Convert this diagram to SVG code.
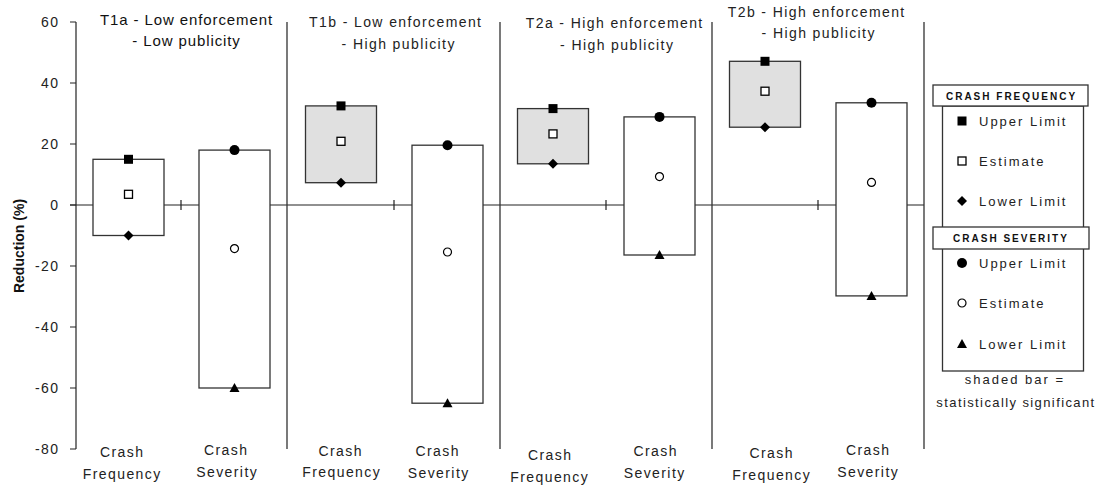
<svg xmlns="http://www.w3.org/2000/svg" xmlns:xlink="http://www.w3.org/1999/xlink" width="1100" height="487" viewBox="0 0 1100 487">
<style>
.ln{stroke:#222;stroke-width:1.2;fill:none}
.sep{stroke:#333;stroke-width:1.3;fill:none}
.bar{fill:#fff;stroke:#333;stroke-width:1.3}
.sh{fill:#e0e0e0;stroke:#333;stroke-width:1.3}
.tk{font-family:"Liberation Sans",Arial,sans-serif;font-size:14px;letter-spacing:1.4px;fill:#222}
.yl{font-family:"Liberation Sans",Arial,sans-serif;font-size:14px;letter-spacing:1.4px;fill:#222;text-anchor:end}
.t1{font-family:"Liberation Sans",Arial,sans-serif;font-size:15px;letter-spacing:0.9px;fill:#111;text-anchor:middle}
.tt{font-family:"Liberation Sans",Arial,sans-serif;font-size:14px;letter-spacing:1.4px;fill:#222;text-anchor:middle}
.lb{font-family:"Liberation Sans",Arial,sans-serif;font-size:14px;letter-spacing:1.4px;fill:#222;text-anchor:middle}
.hd{font-family:"Liberation Sans",Arial,sans-serif;font-size:10px;font-weight:bold;letter-spacing:2px;fill:#111;text-anchor:middle}
.li{font-family:"Liberation Sans",Arial,sans-serif;font-size:13px;letter-spacing:2px;fill:#222}
.nt{font-family:"Liberation Sans",Arial,sans-serif;font-size:13px;fill:#222;text-anchor:middle}
.ax{font-family:"Liberation Sans",Arial,sans-serif;font-size:14px;font-weight:bold;fill:#111;text-anchor:middle}
</style>
<defs>
<rect id="sqF" x="-4.5" y="-4.5" width="9" height="9" fill="#000"/>
<rect id="sqO" x="-4" y="-4" width="8" height="8" fill="#fff" stroke="#000" stroke-width="1.3"/>
<polygon id="dia" points="0,-5 5,0 0,5 -5,0" fill="#000"/>
<circle id="cF" r="5" fill="#000"/>
<circle id="cO" r="4" fill="#fff" stroke="#000" stroke-width="1.2"/>
<polygon id="tri" points="0,-5 5,4 -5,4" fill="#000"/>
</defs>
<rect width="1100" height="487" fill="#fff"/>

<g id="axes">
<line class="ln" x1="76" y1="22" x2="76" y2="449"/>
<path class="ln" d="M70 22H76M70 83H76M70 144H76M70 205H76M70 266H76M70 327H76M70 388H76M70 449H76"/>
<line class="ln" x1="70" y1="205" x2="924" y2="205"/>
<path class="ln" d="M181 200V210M394 200V210M606 200V210M818 200V210"/>
<path class="sep" d="M287 22V449M500 22V449M712 22V449M924 22V449"/>
<text class="yl" x="59.4" y="27">60</text>
<text class="yl" x="59.4" y="88">40</text>
<text class="yl" x="59.4" y="149">20</text>
<text class="yl" x="59.4" y="210">0</text>
<text class="yl" x="59.4" y="271">-20</text>
<text class="yl" x="59.4" y="332">-40</text>
<text class="yl" x="59.4" y="393">-60</text>
<text class="yl" x="59.4" y="454">-80</text>
<text class="ax" transform="translate(23.5,246) rotate(-90)">Reduction (%)</text>
</g>

<g id="connectors"></g>

<g id="t1a">
<text class="t1" x="186.5" y="25">T1a - Low enforcement</text>
<text class="t1" x="186.5" y="46">- Low publicity</text>
<rect class="bar" x="93" y="159.3" width="71" height="76.2"/>
<use href="#sqF" x="128.5" y="159.3"/>
<use href="#sqO" x="128.5" y="194.3"/>
<use href="#dia" x="128.5" y="235.5"/>
<rect class="bar" x="199" y="150.1" width="71" height="237.9"/>
<use href="#cF" x="234.5" y="150.1"/>
<use href="#cO" x="234.5" y="248.6"/>
<use href="#tri" x="234.5" y="388"/>
<text class="lb" x="122.2" y="457">Crash</text>
<text class="lb" x="122.2" y="479">Frequency</text>
<text class="lb" x="226.2" y="455">Crash</text>
<text class="lb" x="227.2" y="477">Severity</text>
</g>

<g id="t1b">
<text class="tt" x="395.7" y="27">T1b - Low enforcement</text>
<text class="tt" x="398.7" y="49">- High publicity</text>
<rect class="sh" x="305.5" y="105.9" width="71" height="76.8"/>
<use href="#sqF" x="341" y="105.9"/>
<use href="#sqO" x="341" y="141.3"/>
<use href="#dia" x="341" y="182.7"/>
<rect class="bar" x="412" y="145.2" width="71" height="258"/>
<use href="#cF" x="447.5" y="145.2"/>
<use href="#cO" x="447.5" y="252"/>
<use href="#tri" x="447.5" y="403.2"/>
<text class="lb" x="340.7" y="456">Crash</text>
<text class="lb" x="341.7" y="477">Frequency</text>
<text class="lb" x="437.7" y="456">Crash</text>
<text class="lb" x="438.7" y="478">Severity</text>
</g>

<g id="t2a">
<text class="tt" x="614.7" y="28">T2a - High enforcement</text>
<text class="tt" x="617.2" y="50">- High publicity</text>
<rect class="sh" x="517.5" y="108.6" width="71" height="55.2"/>
<use href="#sqF" x="553" y="108.6"/>
<use href="#sqO" x="553" y="133.9"/>
<use href="#dia" x="553" y="163.8"/>
<rect class="bar" x="624" y="116.9" width="71" height="138.1"/>
<use href="#cF" x="659.5" y="116.9"/>
<use href="#cO" x="659.5" y="176.6"/>
<use href="#tri" x="659.5" y="255"/>
<text class="lb" x="550.2" y="460">Crash</text>
<text class="lb" x="549.7" y="482">Frequency</text>
<text class="lb" x="655.7" y="456">Crash</text>
<text class="lb" x="654.7" y="478">Severity</text>
</g>

<g id="t2b">
<text class="tt" x="816.7" y="17">T2b - High enforcement</text>
<text class="tt" x="818.7" y="38">- High publicity</text>
<rect class="sh" x="729.5" y="61.3" width="71" height="65.9"/>
<use href="#sqF" x="765" y="61.3"/>
<use href="#sqO" x="765" y="91.2"/>
<use href="#dia" x="765" y="127.2"/>
<rect class="bar" x="836" y="102.8" width="71" height="193.1"/>
<use href="#cF" x="871.5" y="102.8"/>
<use href="#cO" x="871.5" y="182.4"/>
<use href="#tri" x="871.5" y="295.9"/>
<text class="lb" x="771.7" y="458">Crash</text>
<text class="lb" x="771.7" y="480">Frequency</text>
<text class="lb" x="868.2" y="455">Crash</text>
<text class="lb" x="868.2" y="477">Severity</text>
</g>

<g id="legend">
<rect class="bar" x="942.5" y="106" width="141" height="265"/>
<rect class="bar" x="933" y="85" width="155" height="21"/>
<text class="hd" x="1011.5" y="99.5">CRASH FREQUENCY</text>
<use href="#sqF" x="962" y="121"/>
<text class="li" x="979" y="126">Upper Limit</text>
<use href="#sqO" x="962" y="161"/>
<text class="li" x="979" y="166">Estimate</text>
<use href="#dia" x="962" y="201"/>
<text class="li" x="979" y="206">Lower Limit</text>
<rect class="bar" x="933" y="227" width="156" height="22"/>
<text class="hd" x="1011" y="242">CRASH SEVERITY</text>
<use href="#cF" x="962" y="263"/>
<text class="li" x="979" y="268">Upper Limit</text>
<use href="#cO" x="962" y="303"/>
<text class="li" x="979" y="308">Estimate</text>
<use href="#tri" x="962" y="344"/>
<text class="li" x="979" y="349">Lower Limit</text>
<text class="nt" x="1015" y="384" letter-spacing="2">shaded bar =</text>
<text class="nt" x="1016" y="407" letter-spacing="1.4">statistically significant</text>
</g>
</svg>
